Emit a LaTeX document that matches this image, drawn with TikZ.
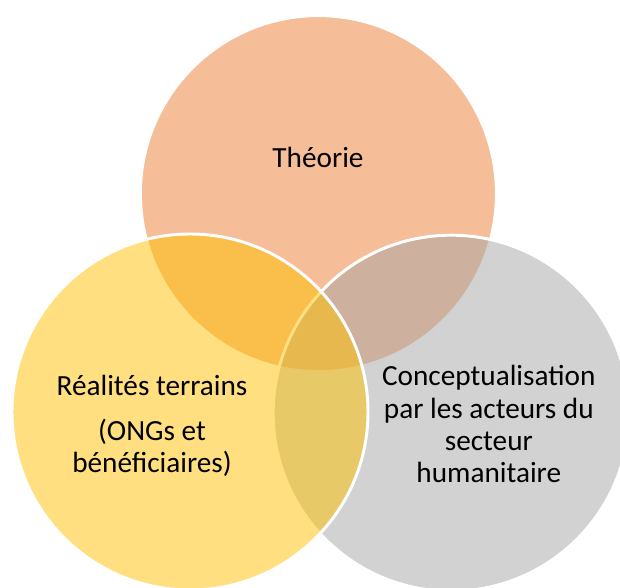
\documentclass[tikz,border=0pt]{standalone}
\usepackage{fontspec}
\setmainfont{Carlito}
\begin{document}
\begin{tikzpicture}
        \definecolor{myorange}{RGB}{237,125,49}
        \definecolor{mygrey}{RGB}{165,165,165}
        \definecolor{myyellow}{RGB}{255,192,0}
        \tikzset{venn/.style={draw=white, line width=2.1pt, fill opacity=0.5},
                 label/.style={align=center, font=\fontsize{20.8}{22.8}\selectfont}}
        \useasboundingbox (0, 0) rectangle (15.5, -14.7);
        \draw[venn, fill=myorange] (7.96, -4.84) circle (4.45cm);
        \draw[venn, fill=mygrey] (11.28, -10.33) circle (4.45cm);
        \draw[venn, fill=myyellow] (4.75, -10.3) circle (4.45cm);
        \node[label] (theorie) at (7.95, -3.93) {Théorie};
        \node[label] (terrain) at (3.8, -10.65) {Réalités terrains\\[9pt](ONGs et\\bénéficiaires)};
        \node[label] (acteurs) at (12.22, -10.6) {Conceptualisation\\par les acteurs du\\secteur\\humanitaire};
    \end{tikzpicture}
\end{document}
